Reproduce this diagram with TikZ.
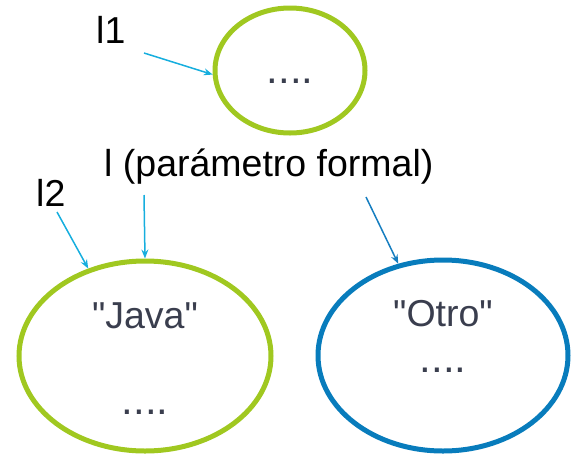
\documentclass[tikz,border=0pt]{standalone}
\usepackage{fontspec}
\setmainfont{Liberation Sans}[Ligatures=TeXOff]
\usetikzlibrary{shapes.geometric,arrows.meta}
\definecolor{lime}{RGB}{160,200,32}
\definecolor{ovalblue}{RGB}{8,124,188}
\definecolor{arrcyan}{RGB}{22,174,222}
\definecolor{arrblue}{RGB}{22,126,192}
\definecolor{slate}{RGB}{58,62,78}
\begin{document}
\begin{tikzpicture}[x=1pt,y=-1pt,
  oval/.style={ellipse,draw,line width=5pt,inner sep=0pt,minimum width=#1},
  lbl/.style={anchor=base west,inner sep=0pt,font=\fontsize{37.5}{40}\selectfont,text=black},
  inner/.style={anchor=base,inner sep=0pt,font=\fontsize{37.5}{40}\selectfont,text=slate},
  dots/.style={anchor=base,inner sep=0pt,font=\fontsize{42}{46}\selectfont,text=slate},
  ptr/.style={-{Stealth[length=9pt,width=7pt,inset=3pt]},line width=1.5pt,draw=arrcyan}]
\useasboundingbox (0,0) rectangle (571,456);
\node[oval=150pt,draw=lime,minimum height=125pt] (topE) at (290,70.5) {};
\node[oval=252pt,draw=lime,minimum height=190pt] (java) at (145,356) {};
\node[oval=250pt,draw=ovalblue,minimum height=191pt] (otro) at (443,355.5) {};
\node[dots] (topdots) at (290,83) {....};
\node[inner] (javatxt) at (145,328) {"Java"};
\node[dots] (javadots) at (145,414) {....};
\node[inner] (otrotxt) at (443,326) {"Otro"};
\node[dots] (otrodots) at (443,372) {....};
\node[lbl] (l1) at (96,43) {l1};
\node[lbl] (l2) at (36,206) {l2};
\node[lbl] (lp) at (104,176) {l (parámetro formal)};
\coordinate (s1) at (144,53);
\coordinate (s2) at (57,212);
\coordinate (s3) at (144,195);
\coordinate (s4) at (366,197);
\draw[ptr] (s1) -- (topE.183);
\draw[ptr] (s2) -- (java.123);
\draw[ptr] (s3) -- (java.north);
\draw[ptr,draw=arrblue] (s4) -- (otro.116);
\end{tikzpicture}
\end{document}
